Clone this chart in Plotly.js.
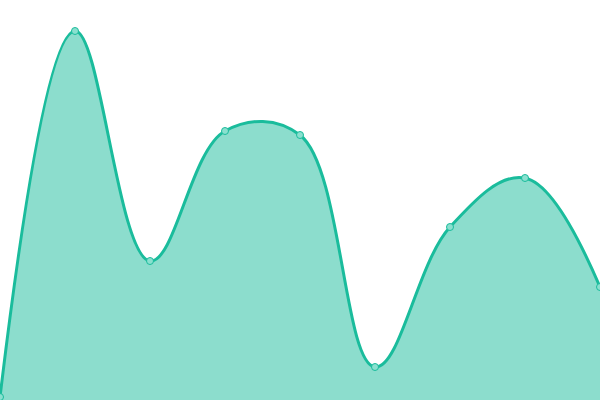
<!DOCTYPE html>
<html>
<head>
<meta charset="utf-8">
<script src="https://cdn.plot.ly/plotly-3.0.1.min.js"></script>
<style>
  html, body { margin: 0; padding: 0; background: #fff; }
  #plot { width: 600px; height: 400px; }
</style>
</head>
<body>
<div id="plot"></div>
<script>
// values (height above the bottom edge)
const labels = [0, 1, 2, 3, 4, 5, 6, 7, 8];
const values = [3, 369, 139, 269, 265, 33, 173, 222, 113];

const trace = {
  x: labels,
  y: values,
  type: 'scatter',
  mode: 'lines+markers',
  fill: 'tozeroy',
  fillcolor: 'rgba(26,188,156,0.5)',
  line: { color: '#1abc9c', width: 3, shape: 'spline', smoothing: 1.1 },
  marker: {
    size: 7,
    color: 'rgba(138,224,207,1)',
    line: { color: '#1abc9c', width: 1 }
  },
  cliponaxis: false,
  hoverinfo: 'none'
};

const layout = {
  width: 600,
  height: 400,
  margin: { l: 0, r: 0, t: 0, b: 0 },
  paper_bgcolor: '#fff',
  plot_bgcolor: '#fff',
  showlegend: false,
  xaxis: { range: [0, 8], visible: false, fixedrange: true },
  yaxis: { range: [0, 400], visible: false, fixedrange: true }
};

Plotly.newPlot('plot', [trace], layout, { staticPlot: true });
</script>
</body>
</html>
